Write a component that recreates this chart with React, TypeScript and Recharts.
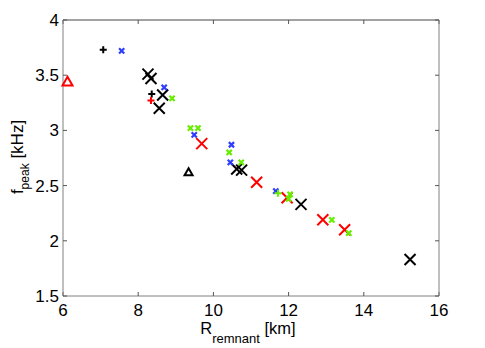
import { ScatterChart, Scatter, XAxis, YAxis, Label } from 'recharts';

// R_remnant [km] vs f_peak [kHz], one list per marker style
const blackBigX = [
  { r: 8.26, f: 3.51 }, { r: 8.34, f: 3.47 }, { r: 8.65, f: 3.32 }, { r: 8.56, f: 3.2 },
  { r: 10.62, f: 2.65 }, { r: 10.75, f: 2.64 }, { r: 12.33, f: 2.33 }, { r: 15.23, f: 1.83 },
];
const redBigX = [
  { r: 9.69, f: 2.88 }, { r: 11.15, f: 2.53 }, { r: 11.96, f: 2.39 }, { r: 12.91, f: 2.19 }, { r: 13.49, f: 2.1 },
];
const blueSmallX = [
  { r: 7.56, f: 3.72 }, { r: 8.69, f: 3.39 }, { r: 9.49, f: 2.96 }, { r: 10.48, f: 2.87 },
  { r: 10.45, f: 2.71 }, { r: 11.66, f: 2.45 },
];
const greenSmallX = [
  { r: 8.9, f: 3.29 }, { r: 9.39, f: 3.02 }, { r: 9.59, f: 3.02 }, { r: 10.42, f: 2.8 }, { r: 10.74, f: 2.71 },
  { r: 12.04, f: 2.42 }, { r: 12.0, f: 2.38 }, { r: 13.15, f: 2.19 }, { r: 13.6, f: 2.07 },
];
const blackPlus = [{ r: 7.07, f: 3.73 }, { r: 8.36, f: 3.33 }];
const redPlus = [{ r: 8.34, f: 3.27 }];
const greenPlus = [{ r: 11.72, f: 2.43 }];
const redTriangle = [{ r: 6.12, f: 3.44 }];
const blackTriangle = [{ r: 9.34, f: 2.62 }];

const xTicks = [6, 8, 10, 12, 14, 16];
const yTicks = [1.5, 2, 2.5, 3, 3.5, 4];

const FONT = '"Liberation Sans", Arial, sans-serif';
const RED = '#ff0000';
const BLUE = '#2f3dff';
const GREEN = '#66ee00';

const cross = (h: number, color: string, w: number) => (p: any) => (
  <path
    d={`M${p.cx - h},${p.cy - h}L${p.cx + h},${p.cy + h}M${p.cx - h},${p.cy + h}L${p.cx + h},${p.cy - h}`}
    stroke={color}
    strokeWidth={w}
    fill="none"
  />
);

const plus = (h: number, color: string) => (p: any) => (
  <path
    d={`M${p.cx - h},${p.cy}L${p.cx + h},${p.cy}M${p.cx},${p.cy - h}L${p.cx},${p.cy + h}`}
    stroke={color}
    strokeWidth={2}
    fill="none"
  />
);

const triangle = (h: number, color: string) => (p: any) => (
  <path
    d={`M${p.cx},${p.cy - h}L${p.cx + h},${p.cy + h * 0.75}L${p.cx - h},${p.cy + h * 0.75}Z`}
    stroke={color}
    strokeWidth={2}
    fill="none"
  />
);

const XLabel = ({ viewBox }: any) => (
  <text x={viewBox.x + viewBox.width / 2 - 3} y={viewBox.y + 38} textAnchor="middle" fontSize={16.5} fontFamily={FONT} fill="#000">
    R<tspan fontSize={13} dy={9}>remnant</tspan>
    <tspan dy={-9}> [km]</tspan>
  </text>
);

const YLabel = ({ viewBox }: any) => {
  const x = viewBox.x + 9;
  const y = viewBox.y + viewBox.height / 2 - 1;
  return (
    <text x={x} y={y} transform={`rotate(-90, ${x}, ${y})`} textAnchor="middle" fontSize={17} fontFamily={FONT} fill="#000">
      f<tspan fontSize={12} dy={6}>peak</tspan>
      <tspan dy={-6}> [kHz]</tspan>
    </text>
  );
};

const tickStyle = { fontSize: 17, fill: '#000', fontFamily: FONT };
const none = () => null;

export default function App() {
  return (
    <div style={{ position: 'absolute', left: 0, top: 0, background: '#fff' }}>
      <ScatterChart width={485} height={348} margin={{ top: 19, right: 45, bottom: 22, left: 14 }}>
        <XAxis
          type="number"
          dataKey="r"
          domain={[6, 16]}
          ticks={xTicks}
          height={30}
          tickSize={-4}
          tickMargin={12}
          tick={tickStyle}
          axisLine={{ stroke: '#808080' }}
          tickLine={{ stroke: '#555' }}
        >
          <Label content={XLabel} />
        </XAxis>
        <XAxis
          xAxisId="top"
          orientation="top"
          type="number"
          dataKey="r"
          domain={[6, 16]}
          ticks={xTicks}
          height={1}
          tickSize={-4}
          tickFormatter={() => ''}
          axisLine={{ stroke: '#444' }}
          tickLine={{ stroke: '#555' }}
        />
        <YAxis
          type="number"
          dataKey="f"
          domain={[1.5, 4]}
          ticks={yTicks}
          width={49}
          tickSize={-4}
          tickMargin={8}
          tick={tickStyle}
          axisLine={{ stroke: '#808080' }}
          tickLine={{ stroke: '#555' }}
        >
          <Label content={YLabel} />
        </YAxis>
        <YAxis
          yAxisId="right"
          orientation="right"
          type="number"
          dataKey="f"
          domain={[1.5, 4]}
          ticks={yTicks}
          width={1}
          tickSize={-4}
          tickFormatter={() => ''}
          axisLine={{ stroke: '#808080' }}
          tickLine={{ stroke: '#555' }}
        />
        <Scatter data={blackBigX} xAxisId="top" yAxisId="right" shape={none} isAnimationActive={false} />
        <Scatter data={blackBigX} shape={cross(5.5, '#000', 2)} isAnimationActive={false} />
        <Scatter data={redBigX} shape={cross(5.5, RED, 2)} isAnimationActive={false} />
        <Scatter data={blueSmallX} shape={cross(2.6, BLUE, 2.2)} isAnimationActive={false} />
        <Scatter data={greenSmallX} shape={cross(2.6, GREEN, 2.2)} isAnimationActive={false} />
        <Scatter data={blackPlus} shape={plus(3.5, '#000')} isAnimationActive={false} />
        <Scatter data={redPlus} shape={plus(3.5, RED)} isAnimationActive={false} />
        <Scatter data={greenPlus} shape={plus(3.5, GREEN)} isAnimationActive={false} />
        <Scatter data={redTriangle} shape={triangle(5, RED)} isAnimationActive={false} />
        <Scatter data={blackTriangle} shape={triangle(4, '#000')} isAnimationActive={false} />
      </ScatterChart>
    </div>
  );
}
